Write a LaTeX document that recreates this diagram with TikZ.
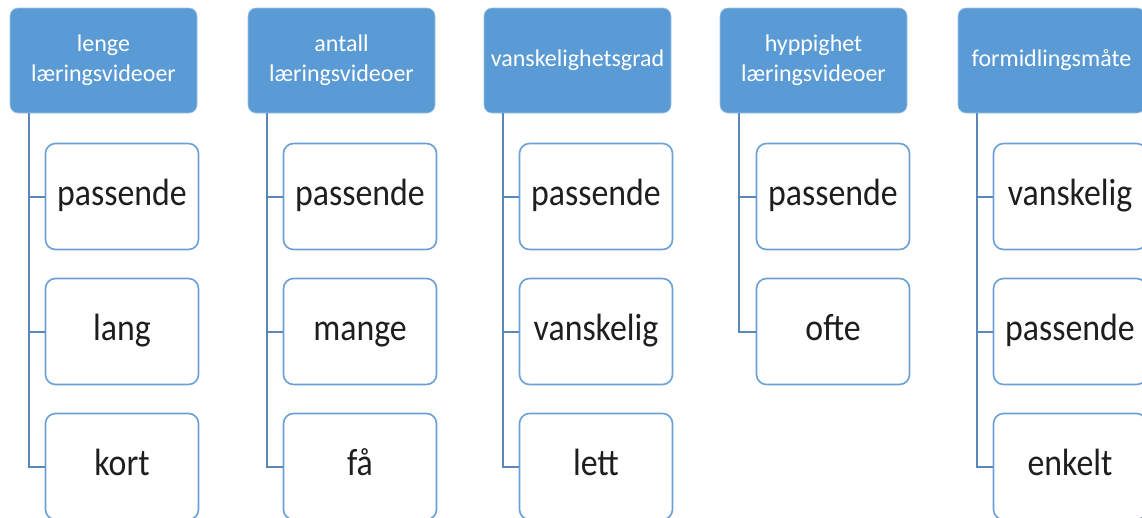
\documentclass[tikz,border=0pt]{standalone}
\usepackage{fontspec}
\setmainfont{Carlito}
\newfontfamily\childfont[FakeStretch=0.89]{Carlito}
\definecolor{hdrblue}{HTML}{5B9BD5}
\definecolor{boxedge}{HTML}{6A9FD8}
\definecolor{linkblue}{HTML}{5A86B8}
\definecolor{txtdark}{HTML}{1E1E1E}
\tikzset{
  hdr/.style={draw=hdrblue!60!white, line width=0.6pt, fill=hdrblue, rounded corners=8pt,
    minimum width=187pt, minimum height=105pt, inner sep=0pt, text=white, align=center,
    font=\fontsize{24}{30}\selectfont},
  child/.style={draw=boxedge, line width=1.6pt, fill=white, rounded corners=10pt,
    minimum width=153pt, minimum height=106pt, inner sep=0pt, text=txtdark,
    text height=26pt, text depth=8pt, font=\childfont\fontsize{38}{40}\selectfont},
  link/.style={draw=linkblue, line width=2pt}
}
\begin{document}
\begin{tikzpicture}[x=1pt,y=1pt]
\useasboundingbox (0,0) rectangle (1142,-517);
\clip (0,0) rectangle (1142,-517);
% headers
\node[hdr] (h1) at (103.5,-60.5) {lenge\\læringsvideoer};
\node[hdr] (h2) at (341.5,-60.5) {antall\\læringsvideoer};
\node[hdr] (h3) at (577.5,-60.5) {vanskelighetsgrad};
\node[hdr] (h4) at (813.5,-60.5) {hyppighet\\læringsvideoer};
\node[hdr] (h5) at (1051.5,-60.5) {formidlingsmåte};
% anchor points of connectors
\coordinate (p1) at ([xshift=19pt]h1.south west);
\coordinate (p2) at ([xshift=19pt]h2.south west);
\coordinate (p3) at ([xshift=19pt]h3.south west);
\coordinate (p4) at ([xshift=19pt]h4.south west);
\coordinate (p5) at ([xshift=19pt]h5.south west);
% children
\node[child] (c11) at (122,-196.5) {passende};
\node[child] (c12) at (122,-331.5) {lang};
\node[child] (c13) at (122,-466.5) {kort};
\node[child] (c21) at (360,-196.5) {passende};
\node[child] (c22) at (360,-331.5) {mange};
\node[child] (c23) at (360,-466.5) {få};
\node[child] (c31) at (596,-196.5) {passende};
\node[child] (c32) at (596,-331.5) {vanskelig};
\node[child] (c33) at (596,-466.5) {lett};
\node[child] (c41) at (833,-196.5) {passende};
\node[child] (c42) at (833,-331.5) {ofte};
\node[child] (c51) at (1070,-196.5) {vanskelig};
\node[child] (c52) at (1070,-331.5) {passende};
\node[child] (c53) at (1070,-466.5) {enkelt};
% connectors
\foreach \c in {c11,c12,c13} \draw[link] (p1) |- (\c.west);
\foreach \c in {c21,c22,c23} \draw[link] (p2) |- (\c.west);
\foreach \c in {c31,c32,c33} \draw[link] (p3) |- (\c.west);
\foreach \c in {c41,c42} \draw[link] (p4) |- (\c.west);
\foreach \c in {c51,c52,c53} \draw[link] (p5) |- (\c.west);
\end{tikzpicture}
\end{document}
